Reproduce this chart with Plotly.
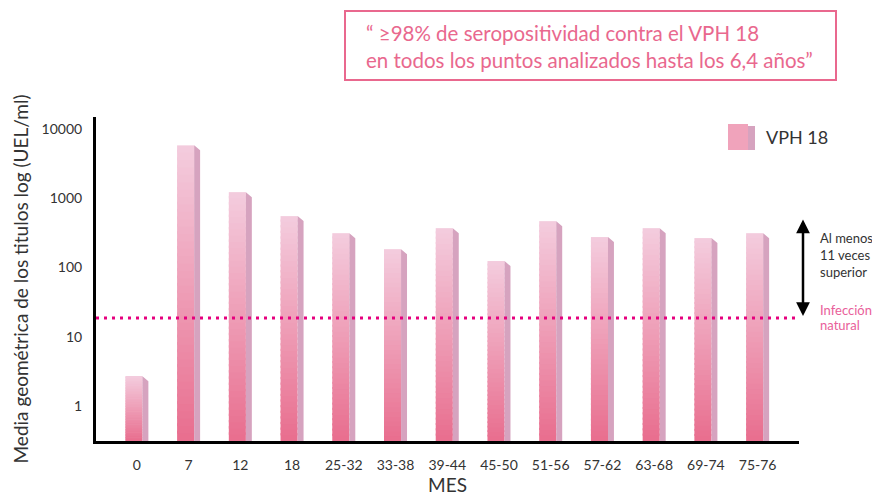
import plotly.graph_objects as go
import numpy as np

months = ["0", "7", "12", "18", "25-32", "33-38", "39-44", "45-50",
          "51-56", "57-62", "63-68", "69-74", "75-76"]
gmt = [2.7, 5800, 1225, 552, 313, 184, 370, 124, 467, 275, 370, 266, 313]
natural_infection = 18.6
y_ticks = [1, 10, 100, 1000, 10000]
series_name = "VPH 18"

# page body offset of the figure
O = 8
W, H = 880 - O, 498 - O
L, R, T, B = 96 - O, 81, 117 - O, 57
PW, PH = W - L - R, H - T - B
YMIN, YMAX = -0.505, 4.173
XMIN, XMAX = -0.79, 12.8

def px_x(px):
    return (px - O - L) / PW

def px_y(py):
    return (H - B - (py - O)) / PH

front_w = 0.33
side_w = 0.115
total = front_w + side_w
off = -total / 2
px_per_dec = PH / (YMAX - YMIN)

bottom_c = np.array([233, 110, 142])
top_c = np.array([244, 205, 222])

fig = go.Figure()
xs = list(range(len(months)))
lb = YMIN
lt = np.log10(gmt)
N = 40
for k in range(N):
    lo = lb + (lt - lb) * k / N
    hi = np.minimum(lb + (lt - lb) * (k + 1.4) / N, lt)
    f = (k + 0.5) / N
    c = bottom_c + (top_c - bottom_c) * f
    fig.add_trace(go.Bar(
        x=xs, base=10 ** lo, y=10 ** hi - 10 ** lo,
        width=front_w, offset=off,
        marker=dict(color="rgb(%d,%d,%d)" % tuple(c), line=dict(width=0)),
        hoverinfo="skip", showlegend=False))

# side faces
sx, sy = [], []
slant = 10 ** (-5 / px_per_dec)
ybot = 10 ** YMIN
for i, v in enumerate(gmt):
    xl = i + off + front_w
    xr = xl + side_w
    sx += [xl, xl, xr, xr, xl, None]
    sy += [ybot, v, v * slant, ybot, ybot, None]
fig.add_trace(go.Scatter(x=sx, y=sy, mode="lines", fill="toself",
                         fillcolor="#d6a3bf", line=dict(width=0),
                         hoverinfo="skip", showlegend=False))

shapes = [
    dict(type="line", xref="paper", yref="y", x0=0, x1=0.995,
         y0=natural_infection, y1=natural_infection,
         line=dict(color="#e6007e", width=3, dash="3px,5px")),
    dict(type="rect", xref="paper", yref="paper",
         x0=px_x(345), x1=px_x(836), y0=px_y(11), y1=px_y(80),
         line=dict(color="#e9688e", width=2)),
    dict(type="rect", xref="paper", yref="paper",
         x0=px_x(728), x1=px_x(748), y0=px_y(124), y1=px_y(150),
         fillcolor="#f0a3bb", line=dict(width=0)),
    dict(type="rect", xref="paper", yref="paper",
         x0=px_x(748), x1=px_x(755), y0=px_y(126), y1=px_y(150),
         fillcolor="#d6a3bf", line=dict(width=0)),
]

font = "Lato, 'Open Sans', sans-serif"
annotations = [
    dict(xref="paper", yref="paper", x=px_x(364), y=px_y(47),
         xanchor="left", yanchor="middle", align="left", showarrow=False,
         text="“ ≥98% de seropositividad contra el VPH 18<br>en todos los puntos analizados hasta los 6,4 años”",
         font=dict(color="#e9688e", size=20.5, family=font)),
    dict(xref="paper", yref="paper", x=px_x(764), y=px_y(137),
         xanchor="left", yanchor="middle", showarrow=False, text=series_name,
         font=dict(color="#333333", size=18, family=font)),
    dict(xref="paper", yref="paper", x=px_x(803), y=px_y(316),
         ax=0, ay=-98, axref="pixel", ayref="pixel", text="",
         showarrow=True, arrowhead=2, arrowside="end+start",
         arrowsize=1.1, arrowwidth=2.5, arrowcolor="#000000",
         standoff=0, startstandoff=0),
    dict(xref="paper", yref="paper", x=px_x(818), y=px_y(255),
         xanchor="left", yanchor="middle", align="left", showarrow=False,
         text="Al menos<br>11 veces<br>superior",
         font=dict(color="#333333", size=13, family=font)),
    dict(xref="paper", yref="paper", x=px_x(818), y=px_y(310),
         xanchor="left", yanchor="middle", showarrow=False, text="Infección",
         font=dict(color="#e9609a", size=13, family=font)),
    dict(xref="paper", yref="paper", x=px_x(818), y=px_y(325),
         xanchor="left", yanchor="middle", showarrow=False, text="natural",
         font=dict(color="#e9609a", size=13, family=font)),
]

fig.update_layout(
    width=W, height=H, margin=dict(l=L, r=R, t=T, b=B, autoexpand=False),
    paper_bgcolor="white", plot_bgcolor="white",
    barmode="overlay", showlegend=False,
    shapes=shapes, annotations=annotations,
    font=dict(family=font, color="#333333"),
    xaxis=dict(range=[XMIN, XMAX], tickvals=xs, ticktext=months,
               showgrid=False, zeroline=False, showline=True,
               linecolor="black", linewidth=3, ticks="",
               ticklabelstandoff=9, automargin=False,
               tickfont=dict(size=14, color="#333333"),
               title=dict(text="MES", font=dict(size=19, color="#333333"),
                          standoff=4)),
    yaxis=dict(type="log", range=[YMIN, YMAX], tickvals=y_ticks,
               ticktext=[str(t) for t in y_ticks],
               showgrid=False, zeroline=False, showline=True,
               linecolor="black", linewidth=3, ticks="",
               ticklabelstandoff=8, automargin=False,
               tickfont=dict(size=14, color="#333333"),
               title=dict(text="Media geométrica de los titulos log (UEL/ml)",
                          font=dict(size=19, color="#333333"), standoff=8)),
)

fig.write_html("out.html")
